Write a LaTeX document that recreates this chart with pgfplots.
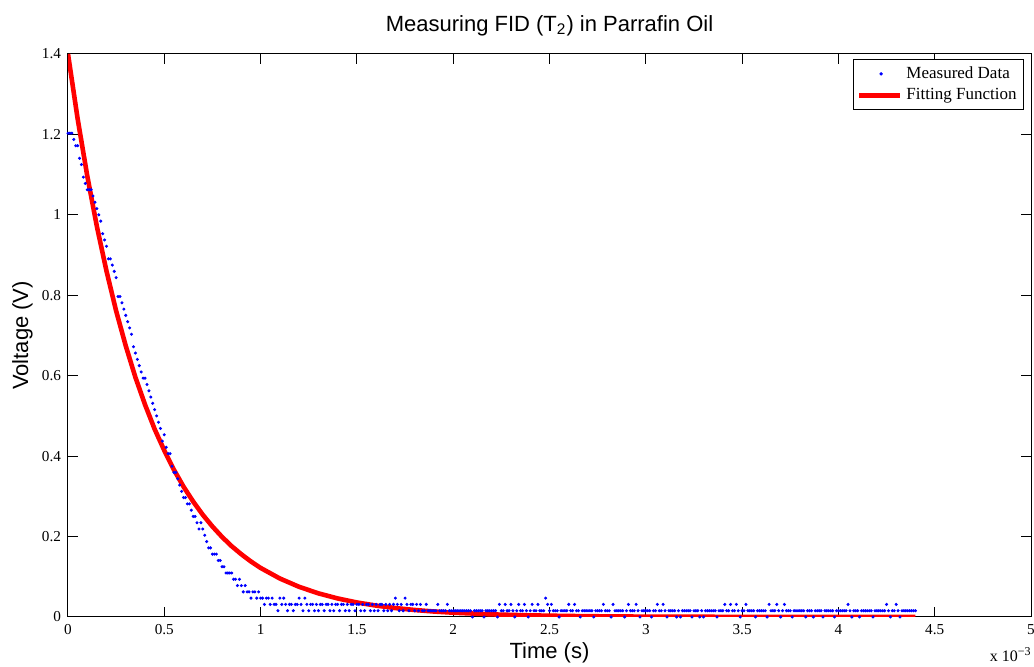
\documentclass[border=0pt]{standalone}
\usepackage{fontspec}
\setmainfont{Liberation Serif}
\newfontfamily\helv{Liberation Sans}
\usepackage{pgfplots}
\pgfplotsset{compat=1.18}

\definecolor{mblue}{RGB}{0,0,255}
\definecolor{mred}{RGB}{255,0,0}

\begin{document}
\begin{tikzpicture}
\begin{axis}[
    name=ax,
    scale only axis,
    width=481.5pt, height=281.5pt,
    xmin=0, xmax=5, ymin=0, ymax=1.4,
    xtick={0,0.5,...,5},
    ytick={0,0.2,...,1.4},
    tick align=inside,
    major tick length=5pt,
    minor tick num=0,
    axis line style={black, line width=0.5pt},
    major tick style={black, line width=0.5pt},
    /pgf/number format/assume math mode=true,
    tick label style={font=\fontsize{7.6}{9}\selectfont},
    title={Measuring FID (T\textsubscript{2}) in Parrafin Oil},
    every axis title/.style={font=\helv\fontsize{11}{13}\selectfont, at={(axis description cs:0.5,1.0396)}, anchor=base},
    xlabel={Time (s)},
    every axis x label/.style={font=\helv\fontsize{11}{13}\selectfont, at={(axis description cs:0.5,-0.0734)}, anchor=base},
    ylabel={Voltage (V)},
    every axis y label/.style={font=\helv\fontsize{11}{13}\selectfont, at={(axis description cs:-0.0415,0.5)}, anchor=base, rotate=90},
    legend style={at={(1,1)}, anchor=north east, xshift=-3.5pt, yshift=-2.5pt,
        draw=black, line width=0.5pt, font=\fontsize{8.5}{9.5}\selectfont,
        inner xsep=1.5pt, inner ysep=1.5pt, row sep=-0.5pt},
    legend cell align=left,
]
% measured FID samples (time in ms)
\addplot[only marks, mark=*, mark size=0.55pt, color=mblue,
    legend image code/.code={\fill[mblue] (11pt,0pt) circle (0.55pt);}]
coordinates {
(0.00,1.2031) (0.01,1.2031) (0.02,1.2031) (0.03,1.1875) (0.04,1.1719) (0.05,1.1719) (0.06,1.1406) (0.07,1.125) (0.08,1.0938) (0.09,1.0781)
(0.10,1.0625) (0.11,1.0625) (0.12,1.0625) (0.13,1.0469) (0.14,1.0313) (0.15,1.0156) (0.16,1.0) (0.17,0.9844) (0.18,0.9531) (0.19,0.9375)
(0.20,0.9219) (0.21,0.8906) (0.22,0.8906) (0.23,0.875) (0.24,0.8594) (0.25,0.8438) (0.26,0.7969) (0.27,0.7969) (0.28,0.7813) (0.29,0.7656)
(0.30,0.75) (0.31,0.7344) (0.32,0.7188) (0.33,0.7031) (0.34,0.6719) (0.35,0.6563) (0.36,0.6406) (0.37,0.625) (0.38,0.6094) (0.39,0.5938)
(0.40,0.5938) (0.41,0.5781) (0.42,0.5625) (0.43,0.5469) (0.44,0.5313) (0.45,0.5156) (0.46,0.5) (0.47,0.4844) (0.48,0.4688) (0.49,0.4375)
(0.50,0.4531) (0.51,0.4219) (0.52,0.4063) (0.53,0.4063) (0.54,0.375) (0.55,0.3594) (0.56,0.3594) (0.57,0.3438) (0.58,0.3281) (0.59,0.3125)
(0.60,0.2969) (0.61,0.2969) (0.62,0.2813) (0.63,0.2813) (0.64,0.2656) (0.65,0.25) (0.66,0.25) (0.67,0.2344) (0.68,0.2188) (0.69,0.2344)
(0.70,0.2188) (0.71,0.2031) (0.72,0.1875) (0.73,0.1719) (0.74,0.1719) (0.75,0.1563) (0.76,0.1563) (0.77,0.1563) (0.78,0.1406) (0.79,0.1406)
(0.80,0.125) (0.81,0.125) (0.82,0.1094) (0.83,0.1094) (0.84,0.1094) (0.85,0.1094) (0.86,0.0938) (0.87,0.0938) (0.88,0.0781) (0.89,0.0938)
(0.90,0.0781) (0.91,0.0625) (0.92,0.0781) (0.93,0.0625) (0.94,0.0625) (0.95,0.0469) (0.96,0.0625) (0.97,0.0625) (0.98,0.0469) (0.99,0.0625)
(1.00,0.0469) (1.01,0.0469) (1.02,0.0313) (1.03,0.0469) (1.04,0.0469) (1.05,0.0313) (1.06,0.0469) (1.07,0.0313) (1.08,0.0313) (1.09,0.0156)
(1.10,0.0469) (1.11,0.0313) (1.12,0.0469) (1.13,0.0313) (1.14,0.0156) (1.15,0.0313) (1.16,0.0313) (1.17,0.0156) (1.18,0.0313) (1.19,0.0313)
(1.20,0.0469) (1.21,0.0313) (1.22,0.0156) (1.23,0.0469) (1.24,0.0313) (1.25,0.0156) (1.26,0.0313) (1.27,0.0313) (1.28,0.0156) (1.29,0.0313)
(1.30,0.0156) (1.31,0.0313) (1.32,0.0313) (1.33,0.0156) (1.34,0.0313) (1.35,0.0313) (1.36,0.0156) (1.37,0.0313) (1.38,0.0156) (1.39,0.0313)
(1.40,0.0313) (1.41,0.0156) (1.42,0.0313) (1.43,0.0313) (1.44,0.0156) (1.45,0.0313) (1.46,0.0156) (1.47,0.0313) (1.48,0.0313) (1.49,0.0156)
(1.50,0.0313) (1.51,0.0313) (1.52,0.0156) (1.53,0.0313) (1.54,0.0156) (1.55,0.0313) (1.56,0.0313) (1.57,0.0156) (1.58,0.0313) (1.59,0.0156)
(1.60,0.0313) (1.61,0.0156) (1.62,0.0313) (1.63,0.0313) (1.64,0.0156) (1.65,0.0313) (1.66,0.0156) (1.67,0.0313) (1.68,0.0156) (1.69,0.0313)
(1.70,0.0469) (1.71,0.0313) (1.72,0.0156) (1.73,0.0313) (1.74,0.0156) (1.75,0.0469) (1.76,0.0313) (1.77,0.0156) (1.78,0.0313) (1.79,0.0313)
(1.80,0.0156) (1.81,0.0313) (1.82,0.0156) (1.83,0.0313) (1.84,0.0156) (1.85,0.0156) (1.86,0.0313) (1.87,0.0156) (1.88,0.0156) (1.89,0.0156)
(1.90,0.0156) (1.91,0.0156) (1.92,0.0313) (1.93,0.0156) (1.94,0.0156) (1.95,0.0156) (1.96,0.0156) (1.97,0.0313) (1.98,0.0156) (1.99,0.0156)
(2.00,0.0156) (2.01,0.0156) (2.02,0.0156) (2.03,0.0156) (2.04,0.0156) (2.05,0.0156) (2.06,0.0156) (2.07,0.0156) (2.08,0.0156) (2.09,0.0156)
(2.10,0) (2.11,0.0156) (2.12,0.0156) (2.13,0.0156) (2.14,0.0156) (2.15,0.0156) (2.16,0) (2.17,0.0156) (2.18,0.0156) (2.19,0.0156)
(2.20,0.0156) (2.21,0.0156) (2.22,0.0156) (2.23,0) (2.24,0.0313) (2.25,0.0156) (2.26,0.0156) (2.27,0.0313) (2.28,0.0156) (2.29,0.0156)
(2.30,0.0313) (2.31,0.0156) (2.32,0) (2.33,0.0156) (2.34,0.0313) (2.35,0.0156) (2.36,0.0156) (2.37,0.0313) (2.38,0.0156) (2.39,0)
(2.40,0.0156) (2.41,0.0313) (2.42,0.0156) (2.43,0.0156) (2.44,0.0313) (2.45,0.0156) (2.46,0.0156) (2.47,0.0156) (2.48,0.0469) (2.49,0.0313)
(2.50,0.0156) (2.51,0.0313) (2.52,0.0156) (2.53,0.0156) (2.54,0.0156) (2.55,0) (2.56,0.0156) (2.57,0.0156) (2.58,0.0156) (2.59,0.0156)
(2.60,0.0313) (2.61,0.0156) (2.62,0.0156) (2.63,0.0313) (2.64,0.0156) (2.65,0.0156) (2.66,0) (2.67,0.0156) (2.68,0.0156) (2.69,0.0156)
(2.70,0.0156) (2.71,0.0156) (2.72,0.0156) (2.73,0) (2.74,0.0156) (2.75,0.0156) (2.76,0.0156) (2.77,0.0156) (2.78,0.0313) (2.79,0.0156)
(2.80,0.0156) (2.81,0.0156) (2.82,0) (2.83,0.0313) (2.84,0.0156) (2.85,0.0156) (2.86,0.0156) (2.87,0.0156) (2.88,0.0156) (2.89,0)
(2.90,0.0156) (2.91,0.0313) (2.92,0.0156) (2.93,0.0156) (2.94,0.0156) (2.95,0.0313) (2.96,0.0156) (2.97,0) (2.98,0.0156) (2.99,0.0156)
(3.00,0.0156) (3.01,0.0156) (3.02,0.0156) (3.03,0) (3.04,0.0156) (3.05,0.0156) (3.06,0.0313) (3.07,0.0156) (3.08,0.0156) (3.09,0.0313)
(3.10,0.0156) (3.11,0) (3.12,0.0156) (3.13,0.0156) (3.14,0.0156) (3.15,0.0156) (3.16,0) (3.17,0.0156) (3.18,0) (3.19,0.0156)
(3.20,0.0156) (3.21,0.0156) (3.22,0.0156) (3.23,0.0156) (3.24,0) (3.25,0.0156) (3.26,0.0156) (3.27,0.0156) (3.28,0) (3.29,0.0156)
(3.30,0) (3.31,0.0156) (3.32,0.0156) (3.33,0.0156) (3.34,0.0156) (3.35,0.0156) (3.36,0.0156) (3.37,0) (3.38,0.0156) (3.39,0.0156)
(3.40,0.0156) (3.41,0.0313) (3.42,0.0156) (3.43,0.0156) (3.44,0.0313) (3.45,0.0156) (3.46,0.0156) (3.47,0.0313) (3.48,0.0156) (3.49,0)
(3.50,0.0156) (3.51,0.0156) (3.52,0.0313) (3.53,0.0156) (3.54,0.0156) (3.55,0.0156) (3.56,0.0156) (3.57,0) (3.58,0.0156) (3.59,0.0156)
(3.60,0.0156) (3.61,0.0156) (3.62,0.0156) (3.63,0) (3.64,0.0313) (3.65,0.0156) (3.66,0.0156) (3.67,0.0156) (3.68,0.0313) (3.69,0.0156)
(3.70,0) (3.71,0.0156) (3.72,0.0313) (3.73,0.0156) (3.74,0.0156) (3.75,0.0156) (3.76,0) (3.77,0.0156) (3.78,0.0156) (3.79,0.0156)
(3.80,0.0156) (3.81,0.0156) (3.82,0.0156) (3.83,0) (3.84,0.0156) (3.85,0.0156) (3.86,0.0156) (3.87,0) (3.88,0.0156) (3.89,0.0156)
(3.90,0.0156) (3.91,0.0156) (3.92,0) (3.93,0.0156) (3.94,0.0156) (3.95,0.0156) (3.96,0.0156) (3.97,0.0156) (3.98,0) (3.99,0.0156)
(4.00,0.0156) (4.01,0.0156) (4.02,0.0156) (4.03,0.0156) (4.04,0.0156) (4.05,0.0313) (4.06,0.0156) (4.07,0) (4.08,0.0156) (4.09,0.0156)
(4.10,0.0156) (4.11,0) (4.12,0.0156) (4.13,0.0156) (4.14,0.0156) (4.15,0.0156) (4.16,0.0156) (4.17,0.0156) (4.18,0) (4.19,0.0156)
(4.20,0.0156) (4.21,0.0156) (4.22,0.0156) (4.23,0.0156) (4.24,0.0156) (4.25,0.0313) (4.26,0.0156) (4.27,0) (4.28,0.0156) (4.29,0.0156)
(4.30,0.0313) (4.31,0.0156) (4.32,0) (4.33,0.0156) (4.34,0.0156) (4.35,0.0156) (4.36,0.0156) (4.37,0.0156) (4.38,0.0156) (4.39,0.0156)
(4.40,0.0156)
};
\addlegendentry{Measured Data}
% fitted exponential decay
\addplot[color=mred, line width=2.3pt, line join=round,
    legend image code/.code={\draw[mred, line width=2.3pt] (0pt,0pt) -- (20.5pt,0pt);}]
coordinates {
(0,1.4) (0.05,1.239) (0.1,1.097) (0.15,0.971) (0.2,0.860) (0.25,0.761) (0.3,0.674) (0.35,0.596)
(0.4,0.528) (0.45,0.467) (0.5,0.414) (0.55,0.366) (0.6,0.324) (0.65,0.287) (0.7,0.254) (0.75,0.225)
(0.8,0.199) (0.85,0.176) (0.9,0.156) (0.95,0.138) (1.0,0.122) (1.1,0.0957) (1.2,0.075) (1.3,0.0588)
(1.4,0.0461) (1.5,0.0361) (1.6,0.0283) (1.7,0.0222) (1.8,0.0174) (1.9,0.0136) (2.0,0.0107) (2.2,0.0065)
(2.4,0.0040) (2.6,0.0025) (2.8,0.0015) (3.0,0.0009) (3.5,0.0003) (4.0,0.0001) (4.4,0.0)
};
\addlegendentry{Fitting Function}
\end{axis}
\node[anchor=base east, inner sep=0pt, font=\fontsize{8}{9}\selectfont]
    at ([xshift=0.5pt, yshift=-22.3pt]ax.south east) {x 10\textsuperscript{−3}};
\pgfresetboundingbox
\path[use as bounding box] ([xshift=-34pt, yshift=-25pt]ax.south west) rectangle ([xshift=1.5pt, yshift=27pt]ax.north east);
\end{tikzpicture}
\end{document}
